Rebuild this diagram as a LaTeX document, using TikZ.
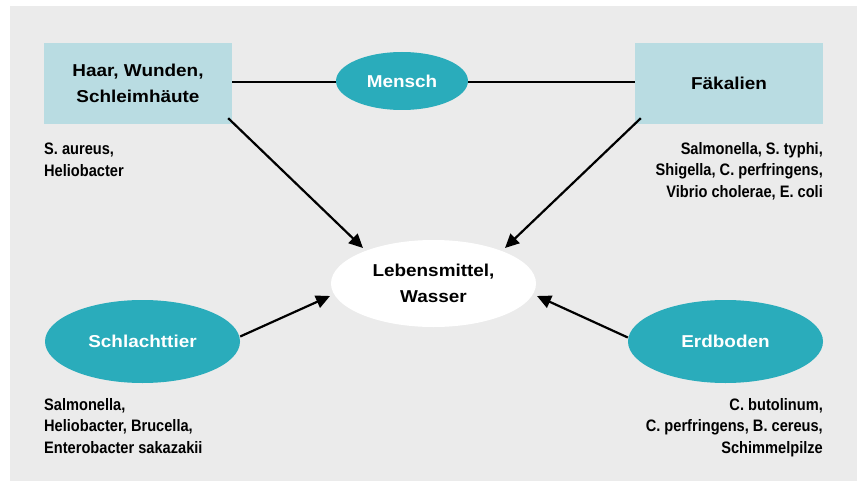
\documentclass[tikz,border=0pt]{standalone}
\usepackage{fontspec}
\setmainfont{Liberation Sans}
\newfontfamily\mainlbl[FakeStretch=1.1]{Liberation Sans Bold}
\newfontfamily\smalllbl[FakeStretch=0.88]{Liberation Sans Bold}
\usetikzlibrary{shapes.geometric,arrows.meta}
\definecolor{bggray}{HTML}{EBEBEB}
\definecolor{teal1}{HTML}{2AACBB}
\definecolor{lblue}{HTML}{B9DCE2}
\tikzset{
  srcbox/.style={rectangle, fill=lblue, minimum width=188pt, minimum height=81pt, inner sep=0pt, align=center, font=\mainlbl\fontsize{17.2}{26}\selectfont},
  tealell/.style={ellipse, fill=teal1, inner sep=0pt, text=white, align=center, font=\mainlbl\fontsize{17.2}{26}\selectfont},
  whiteell/.style={ellipse, fill=white, inner sep=0pt, align=center, font=\mainlbl\fontsize{17.2}{26}\selectfont},
  lbl/.style={inner sep=0pt, font=\smalllbl\fontsize{16.6}{21.5}\selectfont},
  conn/.style={line width=2.2pt, black},
  arr/.style={conn, -{Triangle[length=14pt,width=13pt]}}
}
\begin{document}
\begin{tikzpicture}[x=1pt,y=-1pt]
\useasboundingbox (0,0) rectangle (861,484);
\fill[white] (0,0) rectangle (861,484);
\fill[bggray] (10,6) rectangle (857,481);

\node[srcbox] (haar) at (138,83.5) {Haar, Wunden,\\Schleimhäute};
\node[srcbox] (faek) at (729,83.5) {Fäkalien};
\draw[conn] (haar.east |- 0,82) -- (faek.west |- 0,82);
\node[tealell, minimum width=132pt, minimum height=58pt] (mensch) at (402,81) {Mensch};

\node[whiteell, minimum width=205pt, minimum height=87pt] (leb) at (433.5,283.5) {Lebensmittel,\\Wasser};
\node[tealell, minimum width=195pt, minimum height=83pt] (schl) at (142.5,341.5) {Schlachttier};
\node[tealell, minimum width=195pt, minimum height=83pt] (erd) at (725.5,341.5) {Erdboden};

\coordinate (t1) at (363,248);
\coordinate (t2) at (505,248);
\coordinate (t3) at (330,296);
\coordinate (t4) at (537,296);
\draw[arr] ([xshift=-4pt,yshift=6pt]haar.south east) -- (t1);
\draw[arr] ([xshift=6pt,yshift=6pt]faek.south west) -- (t2);
\draw[arr] ([yshift=5pt]schl.east) -- (t3);
\draw[arr] ([yshift=4pt]erd.west) -- (t4);

\node[lbl, anchor=base west, align=left] (l1) at (44,176) {S. aureus,\\Heliobacter};
\node[lbl, anchor=base east, align=right] (l2) at (823,197) {Salmonella, S. typhi,\\Shigella, C. perfringens,\\Vibrio cholerae, E. coli};
\node[lbl, anchor=base west, align=left] (l3) at (44,453) {Salmonella,\\Heliobacter, Brucella,\\Enterobacter sakazakii};
\node[lbl, anchor=base east, align=right] (l4) at (823,453) {C. butolinum,\\C. perfringens, B. cereus,\\Schimmelpilze};
\end{tikzpicture}
\end{document}
